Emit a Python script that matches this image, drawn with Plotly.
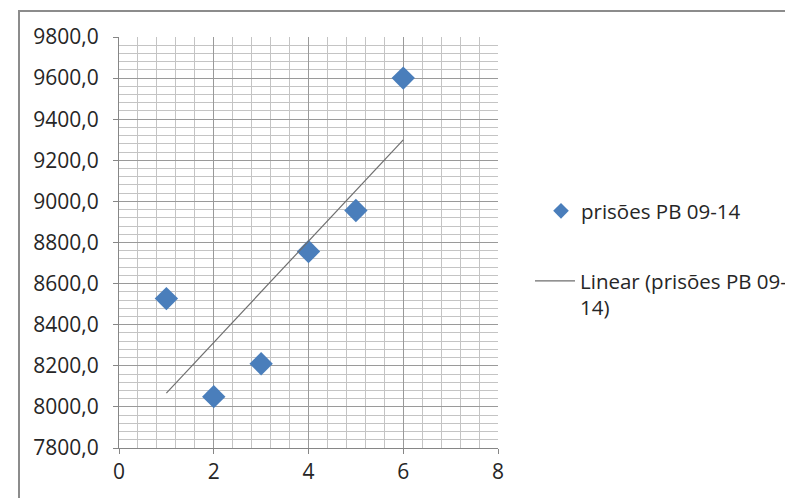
import numpy as np
import plotly.graph_objects as go

x_vals = [1, 2, 3, 4, 5, 6]
prisoes = [8527, 8050, 8210, 8756, 8956, 9600]
series_name = "prisões PB 09-14"
trend_name = "Linear (prisões PB 09-<br>14)"

slope, intercept = np.polyfit(x_vals, prisoes, 1)
trend_x = [x_vals[0], x_vals[-1]]
trend_y = [slope * v + intercept for v in trend_x]

FONT = "Open Sans"
TXT = "#262626"
L, T, PW, PH = 111, 29, 379, 411

fig = go.Figure()
fig.add_trace(go.Scatter(
    x=x_vals, y=prisoes, mode="markers", name=series_name,
    marker=dict(symbol="diamond", size=18, color="#4A7EBB"),
    legend="legend", showlegend=True))
fig.add_trace(go.Scatter(
    x=trend_x, y=trend_y, mode="lines", name=trend_name,
    line=dict(color="#6E6E6E", width=1.2),
    legend="legend2", showlegend=True))

grid_major = "#9A9A9A"
grid_minor = "#C4C4C4"
fig.update_layout(
    width=785, height=490,
    margin=dict(l=L, r=785 - L - PW, t=T, b=490 - T - PH, autoexpand=False),
    paper_bgcolor="white", plot_bgcolor="white",
    separators=",.",
    showlegend=True,
    font=dict(family=FONT, size=21, color=TXT),
    legend=dict(x=(541 - 119) / PW, y=1 - (211 - 37) / PH,
                xanchor="left", yanchor="middle", itemsizing="constant",
                font=dict(size=20.5, family=FONT, color=TXT),
                bgcolor="rgba(0,0,0,0)"),
    legend2=dict(x=(530 - 119) / PW, y=1 - (294.5 - 37) / PH,
                 xanchor="left", yanchor="middle", valign="top",
                 itemwidth=40,
                 font=dict(size=20.5, family=FONT, color=TXT),
                 bgcolor="rgba(0,0,0,0)"),
    xaxis=dict(range=[0, 8], dtick=2, tick0=0, showgrid=True,
               gridcolor=grid_major, gridwidth=1,
               minor=dict(dtick=0.4, showgrid=True, gridcolor=grid_minor, gridwidth=1),
               showline=True, linecolor="#868686", linewidth=1,
               ticks="outside", ticklen=5, tickcolor="#868686",
               tickfont=dict(size=21, family=FONT, color=TXT),
               zeroline=False, fixedrange=True),
    yaxis=dict(range=[7800, 9800], dtick=200, tick0=7800, tickformat=".1f",
               showgrid=True, gridcolor=grid_major, gridwidth=1,
               minor=dict(dtick=40, showgrid=True, gridcolor=grid_minor, gridwidth=1),
               showline=True, linecolor="#868686", linewidth=1,
               ticks="outside", ticklen=5, tickcolor="#868686",
               ticklabelstandoff=10,
               tickfont=dict(size=21, family=FONT, color=TXT),
               zeroline=False, fixedrange=True),
)

# outer chart border (Excel chart area)
fig.add_shape(type="rect", xref="paper", yref="paper",
              x0=(19 - 119) / PW, x1=(800 - 119) / PW,
              y0=-0.3, y1=1 + (37 - 11) / PH,
              line=dict(color="#8C8C8C", width=2), layer="below")

fig.write_html("out.html")
